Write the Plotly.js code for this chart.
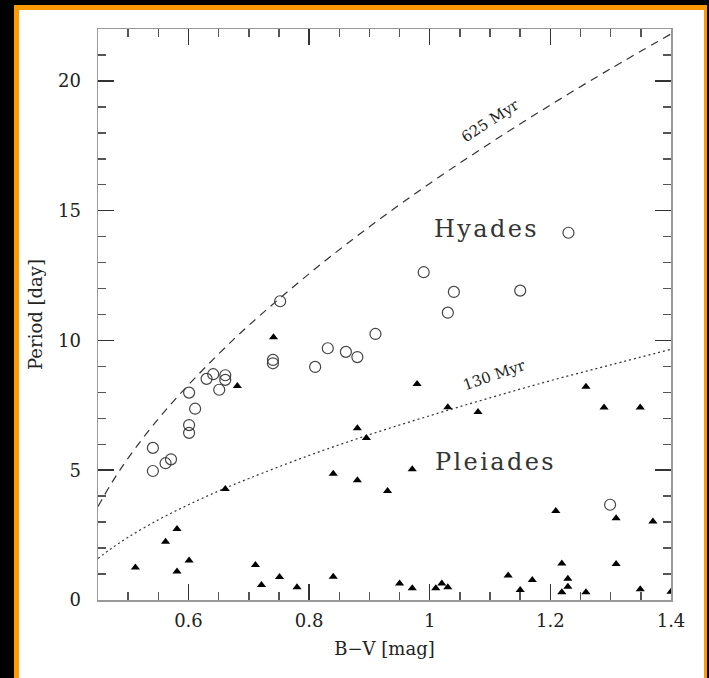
<!DOCTYPE html>
<html>
<head>
<meta charset="utf-8">
<script src="https://cdn.plot.ly/plotly-3.0.1.min.js"></script>
<style>
  html, body { margin: 0; padding: 0; background: #000; width: 709px; height: 678px; overflow: hidden; }
  #frame { position: absolute; left: 14px; top: 5px; border-left: 5px solid #ff9900; border-top: 5px solid #ff9900; border-right: 3px solid #ff9900; background: #fff; }
  #chart { width: 685px; height: 673px; }
</style>
</head>
<body>
<div id="frame"><div id="chart"></div></div>
<script>
// Hyades (open circles)
const hyadesBV = [0.541, 0.541, 0.562, 0.571, 0.601, 0.601, 0.601, 0.611, 0.630, 0.641, 0.651, 0.661, 0.661,
                  0.740, 0.740, 0.752, 0.810, 0.831, 0.861, 0.880, 0.910, 0.990, 1.030, 1.040, 1.150, 1.230, 1.299];
const hyadesP  = [4.97, 5.86, 5.27, 5.42, 7.99, 6.74, 6.44, 7.37, 8.52, 8.70, 8.10, 8.66, 8.48,
                  9.25, 9.12, 11.51, 8.98, 9.70, 9.56, 9.36, 10.25, 12.63, 11.07, 11.87, 11.92, 14.15, 3.67];

// Pleiades (filled triangles)
const pleiadesBV = [0.512, 0.562, 0.581, 0.581, 0.601, 0.661, 0.681, 0.711, 0.721, 0.741, 0.751, 0.780,
                    0.840, 0.840, 0.880, 0.880, 0.930, 0.895, 0.950, 0.971, 0.971, 0.979, 1.010, 1.020,
                    1.030, 1.030, 1.080, 1.130, 1.150, 1.170, 1.209, 1.219, 1.219, 1.229, 1.229, 1.259,
                    1.259, 1.289, 1.309, 1.309, 1.349, 1.349, 1.370, 1.400];
const pleiadesP  = [1.25, 2.24, 2.74, 1.10, 1.52, 4.28, 8.25, 1.35, 0.58, 10.12, 0.89, 0.49,
                    4.86, 0.90, 6.62, 4.61, 4.20, 6.24, 0.64, 5.04, 0.45, 8.32, 0.45, 0.64,
                    0.49, 7.43, 7.24, 0.94, 0.39, 0.77, 3.43, 1.41, 0.30, 0.82, 0.51, 8.22,
                    0.30, 7.42, 3.15, 1.39, 7.42, 0.41, 3.02, 0.32];

// Isochrone curves
const curveBV = [0.45, 0.47, 0.50, 0.55, 0.60, 0.65, 0.70, 0.80, 0.90, 1.00, 1.10, 1.20, 1.30, 1.40];
const iso625P = [3.60, 4.41, 5.47, 6.98, 8.29, 9.48, 10.58, 12.57, 14.38, 16.05, 17.60, 19.07, 20.47, 21.81];
const iso130P = [1.60, 1.95, 2.42, 3.09, 3.67, 4.20, 4.68, 5.57, 6.37, 7.10, 7.79, 8.45, 9.06, 9.66];

const xRange = [0.45, 1.4];
const yRange = [0, 22];

const xTitle = "B\u2212V [mag]";
const yTitle = "Period [day]";

const serif = "DejaVu Serif, Liberation Serif, serif";

const traces = [
  { x: curveBV, y: iso625P, mode: "lines", line: { color: "#333", width: 1.2, dash: "8px,6px", shape: "spline" }, hoverinfo: "skip" },
  { x: curveBV, y: iso130P, mode: "lines", line: { color: "#333", width: 1.2, dash: "2px,3px", shape: "spline" }, hoverinfo: "skip" },
  { x: hyadesBV, y: hyadesP, mode: "markers", marker: { symbol: "circle-open", size: 11, color: "#444", line: { width: 1.2, color: "#444" } } },
  { x: pleiadesBV, y: pleiadesP, mode: "markers", marker: { symbol: "triangle-up", size: 8, color: "#000" } }
];

const layout = {
  width: 685, height: 673,
  margin: { l: 79, r: 33, t: 19, b: 83 },
  paper_bgcolor: "#fff", plot_bgcolor: "#fff",
  showlegend: false,
  xaxis: {
    range: xRange, tickmode: "linear", tick0: 0, dtick: 0.2,
    showgrid: false, zeroline: false, showline: true, linecolor: "#999", linewidth: 1.5,
    mirror: "ticks", ticks: "inside", ticklen: 16, tickwidth: 1.5, tickcolor: "#333",
    ticklabelstandoff: 4,
    tickfont: { family: serif, size: 18, color: "#222" },
    minor: { dtick: 0.05, tick0: 0, ticks: "inside", ticklen: 8, tickcolor: "#555", tickwidth: 1.5, showgrid: false },
    title: { text: xTitle, font: { family: serif, size: 18, color: "#222" }, standoff: 12 }
  },
  yaxis: {
    range: yRange, tickmode: "linear", tick0: 0, dtick: 5,
    showgrid: false, zeroline: false, showline: true, linecolor: "#999", linewidth: 1.5,
    mirror: "ticks", ticks: "inside", ticklen: 16, tickwidth: 1.5, tickcolor: "#333",
    ticklabelstandoff: 12,
    tickfont: { family: serif, size: 18, color: "#222" },
    minor: { dtick: 1, tick0: 0, ticks: "inside", ticklen: 8, tickcolor: "#555", tickwidth: 1.5, showgrid: false },
    title: { text: yTitle, font: { family: serif, size: 18, color: "#222" }, standoff: 10 }
  },
  annotations: [
    { x: 1.092, y: 14.3, text: "H\u200Ay\u200Aa\u200Ad\u200Ae\u200As", showarrow: false, font: { family: serif, size: 24, color: "#333" } },
    { x: 1.107, y: 5.32, text: "P\u200Al\u200Ae\u200Ai\u200Aa\u200Ad\u200Ae\u200As", showarrow: false, font: { family: serif, size: 24, color: "#333" } },
    { x: 1.10, y: 18.45, text: "625 Myr", textangle: -33, showarrow: false, font: { family: serif, size: 15, color: "#222" } },
    { x: 1.108, y: 8.65, text: "130 Myr", textangle: -19, showarrow: false, font: { family: serif, size: 15, color: "#222" } }
  ]
};

Plotly.newPlot("chart", traces, layout, { displayModeBar: false, staticPlot: true });
</script>
</body>
</html>
